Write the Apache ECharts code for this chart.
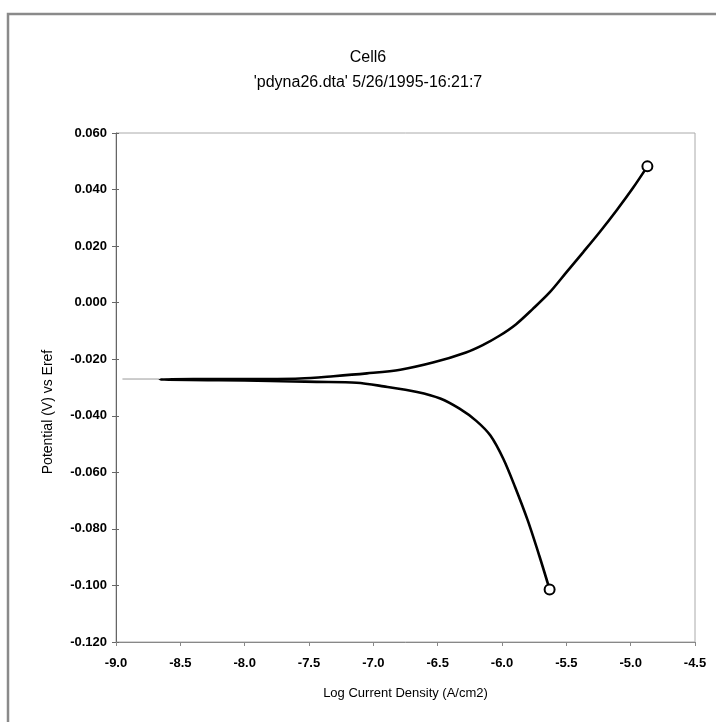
<!DOCTYPE html>
<html>
<head>
<meta charset="utf-8">
<script src="https://cdn.jsdelivr.net/npm/echarts@6/dist/echarts.min.js"></script>
<style>
html,body{margin:0;padding:0;background:#fff;}
#chart{width:716px;height:722px;}
</style>
</head>
<body>
<div id="chart"></div>
<script>
// Scan from cathodic end, through Ecorr, to anodic end
const logCurrent = [
  -5.63, -5.71, -5.80, -5.90, -5.99, -6.09, -6.20, -6.33, -6.48, -6.66, -6.92, -7.13, -7.44, -7.80, -8.20, -8.66,
  -8.40, -8.00, -7.57, -7.31, -7.05, -6.79, -6.53, -6.28, -6.15, -6.02, -5.89, -5.76, -5.63, -5.50, -5.37, -5.24, -5.11, -4.98, -4.87
];
const potential = [
  -0.1014, -0.0895, -0.0770, -0.0650, -0.0552, -0.0470, -0.0418, -0.0375, -0.0339, -0.0316, -0.0296, -0.0283, -0.0280, -0.0277, -0.0274, -0.0272,
  -0.0270, -0.0270, -0.0268, -0.0260, -0.0250, -0.0237, -0.0211, -0.0176, -0.0150, -0.0117, -0.0076, -0.0022, 0.0036, 0.0107, 0.0178, 0.0250, 0.0326, 0.0407, 0.0482
];
// faint reference segment at Ecorr on the left
const refLogCurrent = [-8.95, -8.66];
const refPotential = [-0.027, -0.027];

const titleLine1 = "Cell6";
const titleLine2 = "'pdyna26.dta' 5/26/1995-16:21:7";
const xName = "Log Current Density (A/cm2)";
const yName = "Potential (V) vs Eref";

const curve = logCurrent.map((x, i) => [x, potential[i]]);
const ref = refLogCurrent.map((x, i) => [x, refPotential[i]]);
const lastIdx = curve.length - 1;

const font = "'Liberation Sans', Arial, sans-serif";
const chart = echarts.init(document.getElementById('chart'));
chart.setOption({
  animation: false,
  backgroundColor: '#fff',
  grid: {left: 116, right: 21, top: 133, bottom: 80, show: true, borderColor: '#aaa', borderWidth: 1, backgroundColor: 'transparent'},
  graphic: [
    {type: 'rect', shape: {x: 8, y: 14, width: 800, height: 800}, style: {fill: 'none', stroke: '#8a8a8a', lineWidth: 2.5}, silent: true},
    {type: 'text', style: {text: titleLine1, font: '16px ' + font, fill: '#000', textAlign: 'center', textVerticalAlign: 'middle', x: 368, y: 58}, silent: true},
    {type: 'text', style: {text: titleLine2, font: '16px ' + font, fill: '#000', textAlign: 'center', textVerticalAlign: 'middle', x: 368, y: 83}, silent: true},
    {type: 'text', rotation: Math.PI / 2, x: 48, y: 412, style: {text: yName, font: '14px ' + font, fill: '#000', textAlign: 'center', textVerticalAlign: 'middle', x: 0, y: 0}, silent: true}
  ],
  xAxis: {
    type: 'value', min: -9, max: -4.5, interval: 0.5,
    name: xName, nameLocation: 'middle', nameGap: 45,
    nameTextStyle: {fontFamily: font, fontSize: 13, color: '#000'},
    axisLine: {show: true, onZero: false, lineStyle: {color: '#888', width: 1}},
    axisTick: {show: true, length: 4, lineStyle: {color: '#888'}},
    axisLabel: {fontFamily: font, fontSize: 13, fontWeight: 'bold', color: '#000', margin: 15, formatter: v => v.toFixed(1)},
    splitLine: {show: false}
  },
  yAxis: [{
    type: 'value', min: -0.12, max: 0.06, interval: 0.02,
    axisLine: {show: true, onZero: false, lineStyle: {color: '#666', width: 1}},
    axisTick: {show: true, length: 4, lineStyle: {color: '#666'}},
    axisLabel: {fontFamily: font, fontSize: 13, fontWeight: 'bold', color: '#000', margin: 9, formatter: v => v.toFixed(3)},
    splitLine: {show: false}
  }, {
    type: 'value', min: -0.12, max: 0.06, interval: 0.02, position: 'left',
    axisLine: {show: false},
    axisTick: {show: true, inside: true, length: 3, lineStyle: {color: '#666'}},
    axisLabel: {show: false},
    splitLine: {show: false}
  }],
  series: [{
    type: 'line', data: ref, yAxisIndex: 0, symbol: 'none',
    lineStyle: {color: '#999', width: 1}, z: 1
  }, {
    type: 'line', data: curve, yAxisIndex: 0,
    showAllSymbol: true,
    symbol: (val, params) => (params.dataIndex === 0 || params.dataIndex === lastIdx) ? 'emptyCircle' : 'none',
    symbolSize: 10,
    itemStyle: {color: '#000', borderWidth: 2},
    lineStyle: {color: '#000', width: 2.6},
    smooth: 0.3, z: 3
  }]
});
</script>
</body>
</html>
